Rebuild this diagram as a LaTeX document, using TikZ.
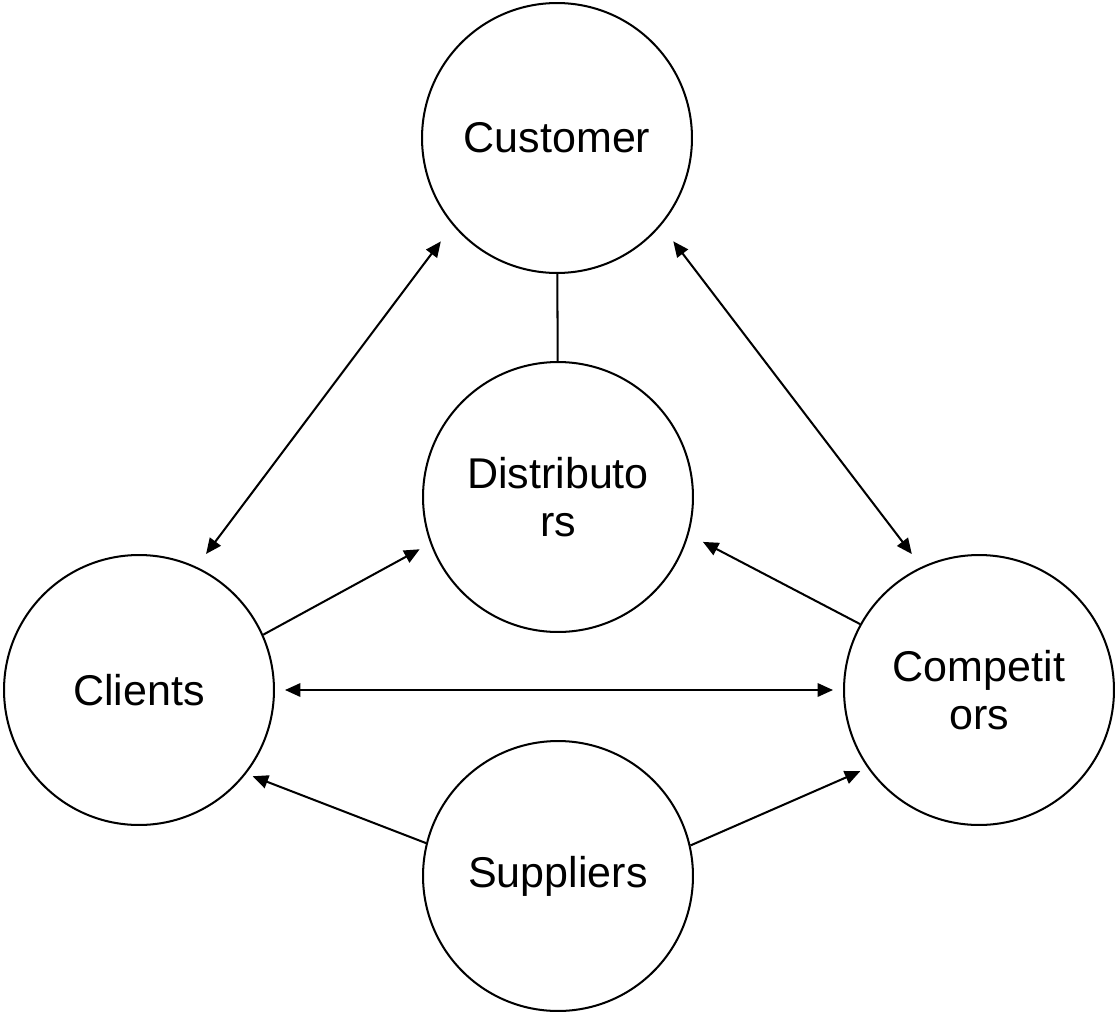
\documentclass[tikz,border=0pt]{standalone}
\usepackage{fontspec}
\setmainfont{Liberation Sans}
\usetikzlibrary{arrows.meta}

\begin{document}
\begin{tikzpicture}[
    x=0.02cm, y=-0.02cm,
    circ/.style={draw, circle, line width=1.15pt, minimum size=5.4cm,
                 inner sep=0pt, align=center,
                 font=\fontsize{24.5}{27.5}\selectfont},
    link/.style={line width=1.15pt},
    arr/.style={link, -{Triangle[length=3.1mm,width=2.7mm]}},
    darr/.style={link, {Triangle[length=3.1mm,width=2.7mm]}-{Triangle[length=3.1mm,width=2.7mm]}}
]
  \useasboundingbox (0,0) rectangle (1115,1014);
  \node[circ] (cust) at (557,138) {Customer};
  \node[circ] (dist) at (558,497) {Distributo\\rs};
  \node[circ] (cli)  at (139,690) {Clients};
  \node[circ] (comp) at (979,690) {Competit\\ors};
  \node[circ] (sup)  at (558,876) {Suppliers};
  \draw[darr, shorten <=0.4cm, shorten >=0.32cm] (cust.220) -- (cli.65);
  \draw[darr, shorten <=0.4cm, shorten >=0.32cm] (cust.320) -- (comp.115);
  \draw[link] (cust) -- (dist);
  \draw[arr, shorten >=0.24cm] (cli.24) -- (dist.200);
  \draw[arr, shorten >=0.32cm] (comp.151) -- (dist.-16);
  \draw[darr, shorten <=0.2cm, shorten >=0.2cm] (cli) -- (comp);
  \draw[arr, shorten >=0.14cm] (sup.166) -- (cli.-38);
  \draw[arr, shorten >=0.16cm] (sup.13) -- (comp.215);
\end{tikzpicture}
\end{document}
